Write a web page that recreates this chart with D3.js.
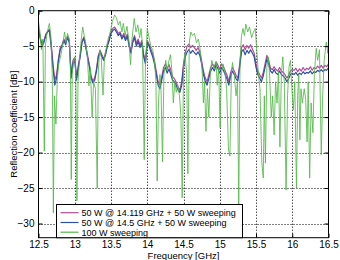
<!DOCTYPE html>
<html><head><meta charset="utf-8">
<script src="https://cdn.jsdelivr.net/npm/d3@7/dist/d3.min.js"></script>
<style>body{margin:0;background:#fff}svg{display:block}text{font-family:"Liberation Sans",Arial,sans-serif;fill:#000}</style>
</head><body><svg id="c" width="340" height="260"></svg>
<script>
const freq = [12.5,12.525,12.55,12.575,12.6,12.625,12.65,12.675,12.7,12.725,12.75,12.775,12.8,12.825,12.85,12.875,12.9,12.925,12.95,12.975,
13.0,13.025,13.05,13.075,13.1,13.125,13.15,13.175,13.2,13.225,13.25,13.275,13.3,13.325,13.35,13.375,13.4,13.425,13.45,13.475,
13.5,13.525,13.55,13.575,13.6,13.625,13.65,13.675,13.7,13.725,13.75,13.775,13.8,13.825,13.85,13.875,13.9,13.925,13.95,13.975,
14.0,14.025,14.05,14.075,14.1,14.125,14.15,14.175,14.2,14.225,14.25,14.275,14.3,14.325,14.35,14.375,14.4,14.425,14.45,14.475,
14.5,14.525,14.55,14.575,14.6,14.625,14.65,14.675,14.7,14.725,14.75,14.775,14.8,14.825,14.85,14.875,14.9,14.925,14.95,14.975,
15.0,15.025,15.05,15.075,15.1,15.125,15.15,15.175,15.2,15.225,15.25,15.275,15.3,15.325,15.35,15.375,15.4,15.425,15.45,15.475,
15.5,15.525,15.55,15.575,15.6,15.625,15.65,15.675,15.7,15.725,15.75,15.775,15.8,15.825,15.85,15.875,15.9,15.925,15.95,15.975,
16.0,16.025,16.05,16.075,16.1,16.125,16.15,16.175,16.2,16.225,16.25,16.275,16.3,16.325,16.35,16.375,16.4,16.425,16.45,16.475,16.5];

const blue145 = [-2.5,-4.0,-5.0,-4.5,-3.5,-3.0,-2.8,-5.0,-8.0,-10.5,-9.5,-7.0,-5.5,-5.0,-4.2,-4.8,-3.8,-4.5,-9.5,-7.5,
-7.0,-9.8,-8.0,-6.5,-4.5,-3.9,-5.0,-6.5,-7.8,-9.5,-10.2,-9.8,-8.5,-6.5,-5.8,-6.5,-7.0,-6.2,-5.0,-4.2,
-3.2,-2.8,-2.6,-3.0,-3.5,-3.2,-4.0,-3.5,-4.2,-3.6,-5.0,-6.0,-4.5,-3.8,-5.0,-4.3,-5.2,-4.5,-6.5,-7.5,
-4.5,-5.0,-5.8,-6.5,-7.5,-9.0,-10.5,-11.0,-9.8,-8.5,-8.0,-8.8,-8.2,-9.0,-9.8,-10.0,-10.5,-11.2,-11.5,-10.5,
-8.0,-6.5,-5.8,-5.5,-6.0,-5.6,-5.9,-6.2,-5.8,-6.3,-7.5,-9.0,-10.0,-10.5,-9.5,-8.5,-8.0,-8.5,-7.6,-8.2,
-8.8,-8.0,-8.4,-9.0,-9.6,-10.5,-9.2,-8.5,-9.0,-9.6,-9.9,-8.0,-5.8,-5.5,-6.2,-5.6,-6.0,-5.5,-6.0,-6.5,
-8.0,-9.0,-9.5,-10.0,-9.2,-8.0,-6.8,-7.5,-8.5,-8.8,-8.3,-8.8,-9.0,-8.5,-9.0,-9.2,-9.5,-10.0,-9.6,-9.0,
-8.8,-9.0,-8.7,-9.1,-8.8,-9.0,-8.6,-8.9,-8.7,-8.8,-8.5,-8.9,-8.6,-8.7,-8.4,-8.6,-8.3,-8.6,-8.3,-8.4,-8.0];

const magenta14119 = [-2.3,-3.8,-4.7,-4.2,-3.3,-2.9,-2.6,-4.6,-7.5,-9.8,-9.0,-6.8,-5.2,-4.8,-4.0,-4.5,-3.6,-4.2,-9.0,-7.0,
-6.6,-9.3,-7.6,-6.2,-4.3,-3.7,-4.8,-6.2,-7.5,-9.2,-9.9,-9.5,-8.2,-6.3,-5.6,-6.2,-6.8,-6.0,-4.8,-4.0,
-3.0,-2.5,-2.3,-2.7,-3.2,-3.0,-3.7,-3.2,-3.9,-3.3,-4.7,-5.6,-4.2,-3.5,-4.6,-4.0,-4.9,-4.2,-6.1,-7.1,
-4.2,-4.7,-5.4,-6.1,-7.1,-8.6,-10.0,-10.5,-9.3,-8.0,-7.5,-8.2,-7.6,-8.4,-9.3,-9.6,-10.1,-10.8,-11.2,-10.0,
-7.5,-5.9,-5.0,-4.7,-5.2,-4.9,-5.2,-5.6,-5.2,-5.8,-7.0,-8.5,-9.5,-10.0,-9.0,-8.0,-7.5,-8.0,-7.2,-7.7,
-8.3,-7.5,-7.9,-8.5,-9.1,-10.0,-8.7,-8.0,-8.5,-9.1,-9.5,-7.5,-5.2,-4.8,-5.5,-4.9,-5.3,-4.8,-5.4,-6.0,
-7.5,-8.5,-9.0,-9.5,-8.7,-7.5,-6.3,-7.0,-8.1,-8.3,-7.9,-8.3,-8.5,-8.0,-8.5,-8.7,-9.0,-9.5,-9.1,-8.5,
-8.3,-8.4,-8.1,-8.6,-8.2,-8.5,-8.0,-8.4,-8.1,-8.3,-7.9,-8.4,-8.0,-8.2,-7.8,-8.1,-7.7,-8.1,-7.7,-7.9,-7.5];

const greenFreq = [12.5,12.52,12.54,12.56,12.58,12.595,12.62,12.65,12.67,12.69,12.705,12.72,12.74,12.76,12.78,12.81,12.83,12.86,12.88,12.9,
12.925,12.94,12.952,12.965,12.985,13.0,13.015,13.03,13.045,13.065,13.09,13.11,13.13,13.15,13.175,13.195,13.215,13.24,13.26,13.285,
13.31,13.325,13.345,13.365,13.39,13.41,13.43,13.46,13.49,13.52,13.55,13.575,13.6,13.625,13.65,13.67,13.695,13.72,13.745,13.77,
13.79,13.82,13.845,13.87,13.895,13.915,13.935,13.958,13.975,14.0,14.025,14.05,14.075,14.1,14.12,14.137,14.155,14.175,14.19,14.21,
14.23,14.255,14.275,14.3,14.32,14.34,14.36,14.38,14.4,14.42,14.445,14.465,14.482,14.5,14.52,14.545,14.56,14.58,14.6,14.625,
14.65,14.68,14.705,14.73,14.755,14.775,14.79,14.81,14.83,14.85,14.87,14.89,14.92,14.95,14.965,14.985,15.005,15.02,15.045,15.07,
15.095,15.12,15.14,15.16,15.175,15.2,15.225,15.245,15.262,15.28,15.3,15.32,15.34,15.36,15.385,15.41,15.44,15.465,15.49,15.51,
15.53,15.555,15.58,15.6,15.615,15.63,15.65,15.67,15.69,15.71,15.73,15.75,15.77,15.79,15.81,15.83,15.85,15.87,15.89,15.915,
15.935,15.955,15.975,15.995,16.015,16.035,16.058,16.075,16.09,16.105,16.12,16.14,16.165,16.185,16.205,16.22,16.24,16.26,16.285,16.305,
16.33,16.35,16.375,16.4,16.42,16.44,16.47,16.49,16.5];

const green100 = [-1.5,-3.0,-5.5,-4.0,-19.8,-5.0,-3.0,-1.8,-3.5,-9.0,-28.5,-12.0,-16.0,-9.5,-7.5,-6.2,-5.0,-3.0,-4.5,-3.2,
-4.0,-8.0,-23.8,-9.0,-7.0,-6.5,-9.0,-26.8,-10.0,-7.0,-4.0,-2.3,-3.5,-4.5,-6.5,-10.6,-8.0,-15.0,-10.0,-11.0,
-25.0,-8.5,-5.5,-6.5,-11.9,-6.5,-5.5,-4.0,-3.0,-1.5,-0.6,-1.0,-2.0,-1.5,-3.0,-1.8,-3.5,-2.2,-4.0,-7.6,
-4.0,-1.1,-3.0,-2.0,-3.8,-2.5,-5.0,-21.0,-8.0,-2.5,-3.8,-5.0,-5.5,-7.0,-10.0,-24.0,-13.0,-9.0,-11.0,-21.3,
-9.0,-7.0,-8.5,-7.0,-6.2,-8.5,-13.0,-10.0,-11.5,-10.5,-12.0,-15.0,-26.4,-8.0,-6.0,-9.0,-23.0,-4.5,-3.0,-3.5,
-3.2,-4.5,-4.0,-5.5,-8.0,-13.0,-10.0,-17.0,-11.0,-15.0,-9.0,-7.0,-8.0,-7.2,-10.5,-8.0,-16.5,-9.0,-7.5,-8.5,
-11.0,-19.5,-20.5,-9.0,-7.3,-9.0,-12.0,-10.0,-27.5,-7.0,-3.5,-2.5,-3.5,-1.9,-3.0,-2.3,-3.8,-3.0,-2.5,-5.5,
-8.5,-11.0,-21.3,-23.6,-12.0,-21.5,-8.0,-6.5,-9.5,-15.0,-12.0,-17.5,-10.0,-13.0,-8.5,-19.2,-9.0,-6.5,-10.0,-25.3,
-12.0,-8.0,-7.0,-11.0,-14.0,-10.0,-25.0,-12.0,-9.0,-18.2,-11.0,-13.0,-11.0,-12.5,-18.5,-10.0,-23.6,-13.0,-17.2,-9.0,
-5.3,-7.0,-5.5,-20.3,-12.0,-7.0,-4.4,-6.0,-4.6];

const xTicks = [12.5,13,13.5,14,14.5,15,15.5,16,16.5];
const yTicks = [0,-5,-10,-15,-20,-25,-30];
const legendLabels = ["50 W @ 14.119 GHz + 50 W sweeping","50 W @ 14.5 GHz + 50 W sweeping","100 W sweeping"];
const colors = ["#b04c9c","#2f4f9f","#52b848"];

const svg = d3.select("#c");
const L=38.5, R=328.5, T=10.7, B=237.7;
const x = d3.scaleLinear().domain([12.5,16.5]).range([L,R]);
const y = d3.scaleLinear().domain([-32,0]).range([B,T]);

svg.append("rect").attr("width",340).attr("height",260).attr("fill","#fff");
svg.append("clipPath").attr("id","pc").append("rect").attr("x",L).attr("y",T).attr("width",R-L).attr("height",B-T);

const g = svg.append("g");
g.selectAll(".gx").data(xTicks.slice(1,-1)).join("line")
  .attr("x1",d=>Math.round(x(d))+0.5).attr("x2",d=>Math.round(x(d))+0.5).attr("y1",T).attr("y2",B)
  .attr("stroke","#000").attr("stroke-width",1).attr("stroke-dasharray","1,2");
g.selectAll(".gy").data(yTicks.slice(1)).join("line")
  .attr("y1",d=>Math.round(y(d))+0.5).attr("y2",d=>Math.round(y(d))+0.5).attr("x1",L).attr("x2",R)
  .attr("stroke","#000").attr("stroke-width",1).attr("stroke-dasharray","1,2");

const line = d3.line().x(d=>x(d[0])).y(d=>y(d[1]));
const plot = svg.append("g").attr("clip-path","url(#pc)");
plot.append("path").datum(d3.zip(freq,magenta14119)).attr("d",line).attr("fill","none").attr("stroke",colors[0]).attr("stroke-width",1.2).attr("stroke-linejoin","round");
plot.append("path").datum(d3.zip(freq,blue145)).attr("d",line).attr("fill","none").attr("stroke",colors[1]).attr("stroke-width",1.2).attr("stroke-linejoin","round");
plot.append("path").datum(d3.zip(greenFreq,green100)).attr("d",line).attr("fill","none").attr("stroke",colors[2]).attr("stroke-width",1).attr("stroke-opacity",0.85).attr("stroke-linejoin","round");

const xa = svg.append("g").attr("transform",`translate(0,${B})`)
  .call(d3.axisBottom(x).tickValues(xTicks).tickSize(-4).tickPadding(3).tickFormat(d3.format("")));
const xt = svg.append("g").attr("transform",`translate(0,${T})`)
  .call(d3.axisTop(x).tickValues(xTicks).tickSize(-4).tickFormat(""));
const ya = svg.append("g").attr("transform",`translate(${L},0)`)
  .call(d3.axisLeft(y).tickValues(yTicks).tickSize(-4).tickPadding(4).tickFormat(d=>d===0?"0":"\u2212"+Math.abs(d)));
const yr = svg.append("g").attr("transform",`translate(${R},0)`)
  .call(d3.axisRight(y).tickValues(yTicks).tickSize(-4).tickFormat(""));
[xa,xt,ya,yr].forEach(a=>{a.select(".domain").remove();a.selectAll("line").attr("stroke","#000");a.selectAll("text").attr("font-size",10).attr("font-family","Liberation Sans, Arial, sans-serif");});
svg.append("rect").attr("x",L).attr("y",T).attr("width",R-L).attr("height",B-T).attr("fill","none").attr("stroke","#000").attr("stroke-width",1);

svg.append("text").attr("x",(L+R)/2).attr("y",259).attr("text-anchor","middle").attr("font-size",9.5).text("Frequency [GHz]");
svg.append("text").attr("transform",`translate(17,${(T+B)/2}) rotate(-90)`).attr("text-anchor","middle").attr("font-size",9.5).text("Reflection coefficient [dB]");

const lg = svg.append("g");
lg.append("rect").attr("x",56.5).attr("y",204.5).attr("width",186).attr("height",B-204.5).attr("fill","#fff").attr("stroke","#000").attr("stroke-width",1);
const rows=[212.7,222.5,232.2];
legendLabels.forEach((t,i)=>{
  lg.append("line").attr("x1",60.5).attr("x2",78.5).attr("y1",rows[i]).attr("y2",rows[i]).attr("stroke",colors[i]).attr("stroke-width",1.2);
  lg.append("text").attr("x",81.5).attr("y",rows[i]+3.3).attr("font-size",9).text(t);
});
</script></body></html>
